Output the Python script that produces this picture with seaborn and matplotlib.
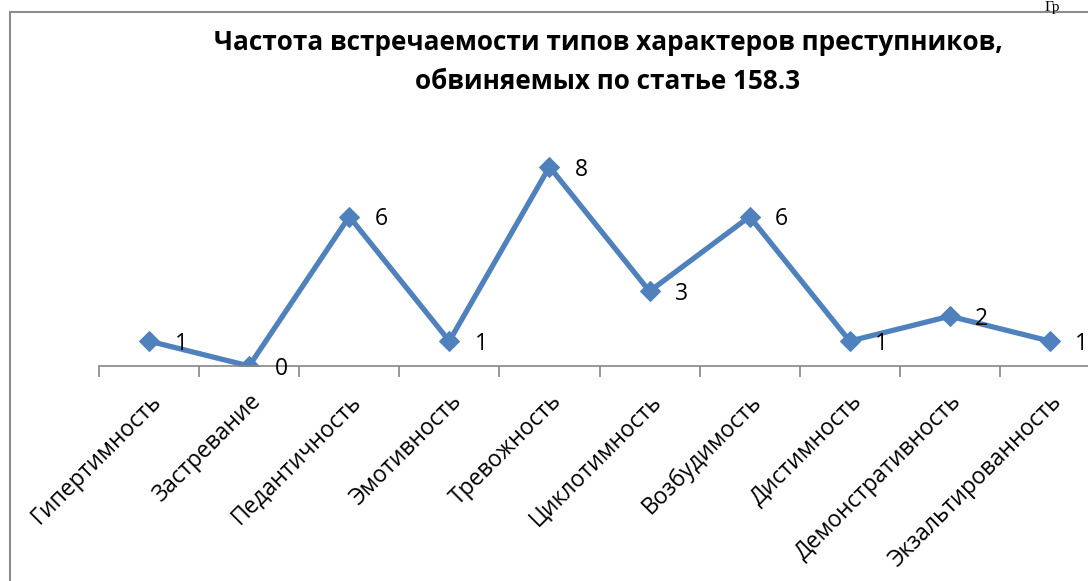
import numpy as np
import pandas as pd
import matplotlib.pyplot as plt
from matplotlib.lines import Line2D
import seaborn as sns

# data
types = ["Гипертимность", "Застревание", "Педантичность", "Эмотивность", "Тревожность",
         "Циклотимность", "Возбудимость", "Дистимность", "Демонстративность", "Экзальтированность"]
counts = [1, 0, 6, 1, 8, 3, 6, 1, 2, 1]

title = "Частота встречаемости типов характеров преступников,\nобвиняемых по статье 158.3"

sns.set_theme(style="white")
plt.rcParams["font.family"] = ["Open Sans", "DejaVu Sans"]
plt.rcParams["text.color"] = "black"
plt.rcParams["xtick.color"] = "black"

df = pd.DataFrame({"type": types, "count": counts})

fig = plt.figure(figsize=(10.88, 5.81), dpi=100)
# plot area: x from 99px to 1100px, y=0 at 366px, y=10 at 117px
ax = fig.add_axes([99 / 1088, (581 - 366) / 581, 1001 / 1088, 249 / 581])

sns.lineplot(data=df, x="type", y="count", ax=ax, color="#4F81BD", linewidth=3.8,
             marker="D", markersize=10, markeredgecolor="#4F81BD", sort=False)

for i, v in enumerate(counts):
    ax.annotate(str(v), (i, v), xytext=(23, -2), textcoords="offset points",
                ha="center", va="center", fontsize=16.5, color="black", clip_on=False)

ax.set_xlim(-0.5, 9.5)
ax.set_ylim(0, 10)
ax.set_xlabel("")
ax.set_ylabel("")
ax.set_yticks([])

ax.set_xticks(range(len(types)))
ax.set_xticklabels(types, rotation=45, ha="right", rotation_mode="anchor", fontsize=16.5)
ax.set_xticks(np.arange(-0.5, 10, 1), minor=True)
ax.tick_params(axis="x", which="major", length=0, pad=17, colors="black")
ax.tick_params(axis="x", which="minor", length=8, width=1.2, color="#868686", bottom=True)

for side in ["top", "right", "left"]:
    ax.spines[side].set_visible(False)
ax.spines["bottom"].set_color("#868686")
ax.spines["bottom"].set_linewidth(1.2)

fig.text(608 / 1088, 1 - 62 / 581, title, ha="center", va="center",
         fontsize=18.8, fontweight="bold", linespacing=1.6, color="black")

# chart area frame (left and top edges visible)
fig.add_artist(Line2D([10 / 1088, 10 / 1088], [0, 1 - 12 / 581], color="#8c8c8c", lw=1.5))
fig.add_artist(Line2D([10 / 1088, 1], [1 - 12 / 581, 1 - 12 / 581], color="#8c8c8c", lw=1.5))
fig.text(1045 / 1088, 1 - 1 / 581, "Гр", ha="left", va="top", fontsize=11,
         family=["Liberation Serif", "DejaVu Serif"])

fig.savefig("out.png", dpi=100)
